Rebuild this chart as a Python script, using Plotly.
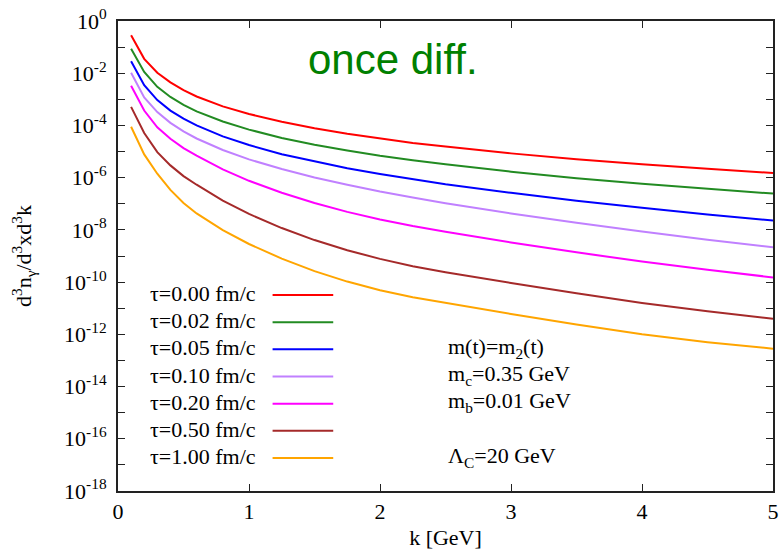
import plotly.graph_objects as go

# ---- data (log10 of d^3n/d^3xd^3k) ----
k = [0.1, 0.2, 0.3, 0.4, 0.5, 0.6, 0.8, 1.0, 1.25, 1.5, 1.75, 2.0, 2.25, 2.5, 3.0, 3.5, 4.0, 4.5, 5.0]

log_tau000 = [-0.55, -1.45, -1.98, -2.35, -2.65, -2.89, -3.27, -3.56, -3.86, -4.11, -4.32, -4.50, -4.67, -4.81, -5.07, -5.29, -5.49, -5.66, -5.82]
log_tau002 = [-1.06, -1.95, -2.52, -2.91, -3.21, -3.46, -3.85, -4.16, -4.48, -4.74, -4.96, -5.16, -5.33, -5.49, -5.77, -6.02, -6.23, -6.43, -6.61]
log_tau005 = [-1.54, -2.46, -3.03, -3.43, -3.74, -4.00, -4.42, -4.75, -5.10, -5.38, -5.64, -5.86, -6.06, -6.25, -6.58, -6.88, -7.15, -7.41, -7.64]
log_tau010 = [-1.98, -2.93, -3.49, -3.90, -4.23, -4.50, -4.94, -5.30, -5.67, -5.99, -6.27, -6.53, -6.76, -6.98, -7.37, -7.73, -8.06, -8.38, -8.67]
log_tau020 = [-2.48, -3.43, -4.07, -4.51, -4.87, -5.16, -5.68, -6.12, -6.58, -6.97, -7.31, -7.60, -7.85, -8.07, -8.48, -8.86, -9.21, -9.53, -9.82]
log_tau050 = [-3.29, -4.29, -5.02, -5.53, -5.94, -6.27, -6.88, -7.39, -7.93, -8.39, -8.78, -9.11, -9.39, -9.62, -10.03, -10.43, -10.80, -11.12, -11.40]
log_tau100 = [-4.05, -5.11, -5.85, -6.47, -6.97, -7.37, -8.01, -8.54, -9.10, -9.58, -9.98, -10.31, -10.58, -10.80, -11.22, -11.62, -12.00, -12.30, -12.55]

series_logs = [log_tau000, log_tau002, log_tau005, log_tau010, log_tau020, log_tau050, log_tau100]
series_names = ["τ=0.00 fm/c", "τ=0.02 fm/c", "τ=0.05 fm/c", "τ=0.10 fm/c",
                "τ=0.20 fm/c", "τ=0.50 fm/c", "τ=1.00 fm/c"]
series_colors = ["#ff0000", "#228b22", "#0000ff", "#c080ff", "#ff00ff", "#a52a2a", "#ffa500"]

x_ticks = [0, 1, 2, 3, 4, 5]
y_decades = list(range(-18, 1))
y_ticktext = [("10<sup>%d</sup>" % d) if d % 2 == 0 else "" for d in y_decades]

info_lines = ["m(t)=m<sub>2</sub>(t)", "m<sub>c</sub>=0.35 GeV", "m<sub>b</sub>=0.01 GeV", "Λ<sub>C</sub>=20 GeV"]
info_rows = [2, 3, 4, 6]

SERIF = "Liberation Serif"
FS = 22

fig = go.Figure()
for name, logs, col in zip(series_names, series_logs, series_colors):
    fig.add_trace(go.Scatter(x=k, y=[10 ** v for v in logs], mode="lines", name=name,
                             line=dict(color=col, width=2), showlegend=False))

# manual legend: text on the left, sample line on the right
row0 = 0.420
dy = 0.0578
for i, (name, col) in enumerate(zip(series_names, series_colors)):
    yy = row0 - i * dy
    fig.add_annotation(x=1.067, y=yy, xref="x", yref="paper", text=name, showarrow=False,
                       xanchor="right", yanchor="middle", font=dict(family=SERIF, size=FS, color="black"))
    fig.add_shape(type="line", xref="x", yref="paper", x0=1.18, x1=1.643, y0=yy - 0.003, y1=yy - 0.003,
                  line=dict(color=col, width=2))

for txt, r in zip(info_lines, info_rows):
    fig.add_annotation(x=2.505, y=row0 - r * dy, xref="x", yref="paper", text=txt, showarrow=False,
                       xanchor="left", yanchor="middle", font=dict(family=SERIF, size=FS, color="black"))

fig.add_annotation(x=2.10, y=0.918, xref="x", yref="paper", text="once diff.", showarrow=False,
                   xanchor="center", yanchor="middle",
                   font=dict(family="Liberation Sans", size=42, color="#008000"))

fig.update_xaxes(range=[0, 5], tickvals=x_ticks, ticks="inside", ticklen=7, tickwidth=1, tickcolor="#222",
                 showline=True, linewidth=2, linecolor="#222", mirror="ticks", showgrid=False, zeroline=False,
                 tickfont=dict(family=SERIF, size=FS, color="black"), ticklabeloverflow="allow",
                 title=dict(text="k [GeV]", font=dict(family=SERIF, size=FS, color="black"), standoff=6))
fig.update_yaxes(type="log", range=[-18, 0], tickvals=[10 ** d for d in y_decades], ticktext=y_ticktext,
                 ticks="inside", ticklen=7, tickwidth=1, tickcolor="#222",
                 showline=True, linewidth=2, linecolor="#222", mirror="ticks", showgrid=False, zeroline=False,
                 tickfont=dict(family=SERIF, size=FS, color="black"), ticklabeloverflow="allow",
                 ticklabelstandoff=5,
                 title=dict(text="d<sup>3</sup>n<sub>γ</sub>/d<sup>3</sup>xd<sup>3</sup>k",
                            font=dict(family=SERIF, size=FS, color="black"), standoff=26))

fig.update_layout(width=782, height=559, margin=dict(l=118, r=9, t=21, b=68, autoexpand=False),
                  plot_bgcolor="white", paper_bgcolor="white")
# remove the default page margin so the figure fills the window exactly
fig.write_html("out.html", config={"displayModeBar": False},
               post_script="document.body.style.margin='0';")
